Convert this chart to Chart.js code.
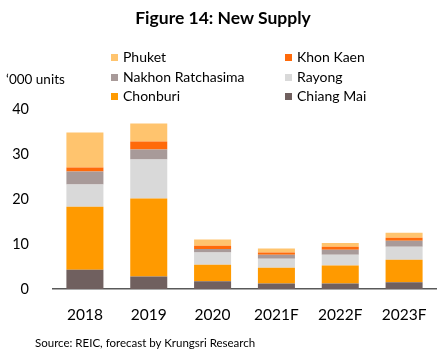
<!DOCTYPE html>
<html>
<head>
<meta charset="utf-8">
<script src="https://cdn.jsdelivr.net/npm/chart.js@4"></script>
<style>
  html,body{margin:0;padding:0;background:#fff;}
  #wrap{position:relative;width:446px;height:360px;font-family:Lato,"Open Sans",sans-serif;color:#000;}
  canvas{position:absolute;left:0;top:0;}
  .t{position:absolute;white-space:nowrap;}
  #title{left:0;width:446px;top:7px;text-align:center;font-weight:bold;font-size:17.5px;}
  #unit{left:6px;top:71px;font-size:13.5px;}
  #src{left:35px;top:336px;font-size:11.5px;}
  .lg{position:absolute;font-size:14px;white-space:nowrap;line-height:16px;}
  .lg span{display:inline-block;width:7px;height:7px;margin-right:5px;vertical-align:1px;}
</style>
</head>
<body>
<div id="wrap">
  <canvas id="c" width="446" height="360"></canvas>
  <div class="t" id="title">Figure 14: New Supply</div>
  <div class="t" id="unit">‘000 units</div>
  <div class="t" id="src">Source: REIC, forecast by Krungsri Research</div>
</div>
<script>
const categories = ["2018","2019","2020","2021F","2022F","2023F"];
const chiangMai  = [4.3, 2.8, 1.7, 1.2, 1.2, 1.5];
const chonburi   = [14.0, 17.3, 3.7, 3.5, 4.0, 5.0];
const rayong     = [4.9, 8.7, 2.7, 2.0, 2.4, 2.9];
const nakhon     = [2.9, 2.2, 0.8, 0.9, 1.1, 1.3];
const khonKaen   = [0.9, 1.8, 0.7, 0.5, 0.7, 0.7];
const phuket     = [7.8, 4.0, 1.4, 0.9, 0.8, 1.1];
const yTicks     = [0, 10, 20, 30, 40];

const series = [
  {label:"Chiang Mai", data:chiangMai, color:"#70605F"},
  {label:"Chonburi", data:chonburi, color:"#FF9A00"},
  {label:"Rayong", data:rayong, color:"#D9D9D9"},
  {label:"Nakhon Ratchasima", data:nakhon, color:"#A89A99"},
  {label:"Khon Kaen", data:khonKaen, color:"#FF6A0A"},
  {label:"Phuket", data:phuket, color:"#FFC46E"}
];

// legend (HTML, real text), 2 columns, reverse stack order
const legendOrder = ["Phuket","Khon Kaen","Nakhon Ratchasima","Rayong","Chonburi","Chiang Mai"];
const wrap = document.getElementById('wrap');
legendOrder.forEach((name,i)=>{
  const s = series.find(d=>d.label===name);
  const el = document.createElement('div');
  el.className='lg';
  el.style.left = (i%2===0 ? 111 : 285) + 'px';
  el.style.top = (49 + Math.floor(i/2)*19.5) + 'px';
  el.innerHTML = '<span style="background:'+s.color+'"></span>'+name;
  wrap.appendChild(el);
});

new Chart(document.getElementById('c'), {
  type:'bar',
  data:{
    labels:categories,
    datasets:series.map(s=>({label:s.label,data:s.data,backgroundColor:s.color,borderWidth:0,barPercentage:0.58,categoryPercentage:1}))
  },
  options:{
    responsive:false,
    animation:false,
    layout:{padding:{top:109,right:10,bottom:0,left:0}},
    plugins:{legend:{display:false},tooltip:{enabled:false},title:{display:false}},
    scales:{
      x:{
        stacked:true,
        grid:{display:false},
        border:{display:true,color:"#595959",width:1.5},
        ticks:{color:"#000",font:{family:"Lato",size:15.5},padding:9,maxRotation:0},
        afterFit(s){s.height=71;}
      },
      y:{
        stacked:true,
        min:0,max:40,
        grid:{display:false},
        border:{display:false},
        afterBuildTicks(s){s.ticks=yTicks.map(v=>({value:v}));},
        ticks:{color:"#000",font:{family:"Lato",size:14.5},padding:16},
        afterFit(s){s.width=53;}
      }
    }
  }
});
</script>
</body>
</html>
